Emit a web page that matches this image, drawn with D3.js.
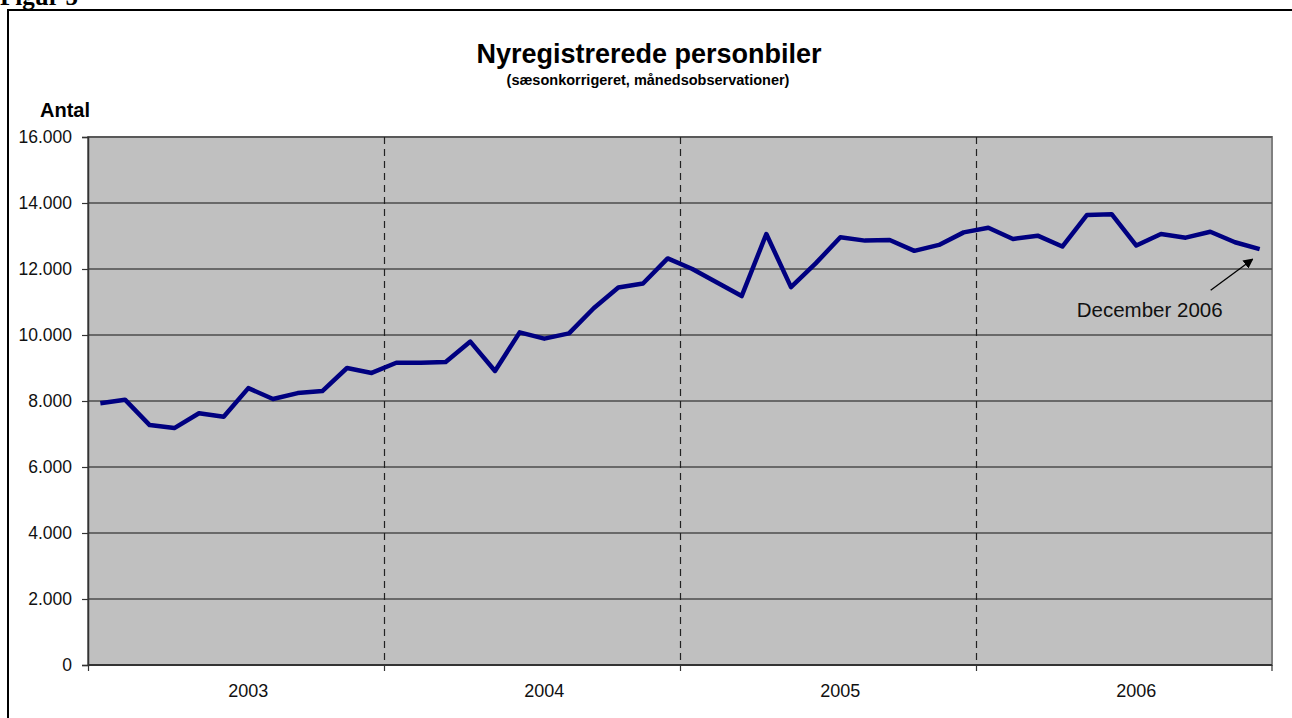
<!DOCTYPE html>
<html>
<head>
<meta charset="utf-8">
<script src="https://cdn.jsdelivr.net/npm/d3@7"></script>
<style>
    body { margin: 0; background: #fff; }
    svg { display: block; font-family: Arial, "Liberation Sans", sans-serif; }
</style>
</head>
<body>
<div id="chart"></div>
<script>
// data
var years = ["2003", "2004", "2005", "2006"];
var months = ["jan", "feb", "mar", "apr", "maj", "jun", "jul", "aug", "sep", "okt", "nov", "dec"];

var values2003 = [7930, 8040, 7270, 7180, 7630, 7520, 8390, 8060, 8240, 8300, 9000, 8850];
var values2004 = [9160, 9160, 9180, 9800, 8910, 10080, 9890, 10050, 10810, 11440, 11560, 12320];
var values2005 = [12000, 11590, 11180, 13060, 11450, 12170, 12960, 12860, 12880, 12550, 12730, 13110];
var values2006 = [13250, 12910, 13010, 12680, 13640, 13660, 12710, 13060, 12950, 13130, 12810, 12600];

var yTicks = [0, 2000, 4000, 6000, 8000, 10000, 12000, 14000, 16000];

var series = [];
[values2003, values2004, values2005, values2006].forEach(function(arr, yi) {
    arr.forEach(function(v, mi) {
        series.push({ key: years[yi] + "-" + months[mi], year: years[yi], month: mi, value: v });
    });
});

var width = 1292, height = 718;
var margin = {top: 137, right: 20, bottom: 53, left: 88};
var w = 1272 - margin.left, h = 665 - margin.top;

var svg = d3.select("#chart").append("svg")
    .attr("width", width)
    .attr("height", height);

// "Figur 5" label, cut off at the top like in the source
svg.append("text")
    .attr("x", 0)
    .attr("y", 5)
    .style("font-family", "'Liberation Serif', 'Times New Roman', serif")
    .style("font-weight", "bold")
    .style("font-size", "25px")
    .text("Figur 5");

// outer frame
svg.append("rect")
    .attr("x", 8)
    .attr("y", 10)
    .attr("width", 1300)
    .attr("height", 720)
    .attr("fill", "none")
    .attr("stroke", "#000")
    .attr("stroke-width", 2);

svg.append("text")
    .attr("x", 649)
    .attr("y", 63)
    .attr("text-anchor", "middle")
    .style("font-weight", "bold")
    .style("font-size", "27px")
    .text("Nyregistrerede personbiler");

svg.append("text")
    .attr("x", 648)
    .attr("y", 85)
    .attr("text-anchor", "middle")
    .style("font-weight", "bold")
    .style("font-size", "14.5px")
    .text("(sæsonkorrigeret, månedsobservationer)");

svg.append("text")
    .attr("x", 40)
    .attr("y", 117)
    .style("font-weight", "bold")
    .style("font-size", "20px")
    .text("Antal");

var g = svg.append("g")
    .attr("transform", "translate(" + margin.left + "," + margin.top + ")");

// scales
var x = d3.scaleBand()
    .domain(series.map(function(d) { return d.key; }))
    .range([0, w]);

var y = d3.scaleLinear()
    .domain([0, 16000])
    .range([h, 0]);

var xYear = d3.scaleBand()
    .domain(years)
    .range([0, w]);

// plot background
g.append("rect")
    .attr("width", w)
    .attr("height", h)
    .attr("fill", "#c0c0c0")
    .attr("stroke", "#808080")
    .attr("stroke-width", 2);

// horizontal gridlines
g.selectAll(".grid")
    .data(yTicks)
    .enter()
    .append("line")
    .attr("class", "grid")
    .attr("x1", 0)
    .attr("x2", w)
    .attr("y1", function(d) { return y(d); })
    .attr("y2", function(d) { return y(d); })
    .attr("stroke", "#4d4d4d")
    .attr("stroke-width", 1.5);

// dashed year separators
g.selectAll(".yearline")
    .data(years.slice(1))
    .enter()
    .append("line")
    .attr("class", "yearline")
    .attr("x1", function(d) { return Math.round(xYear(d)) + 0.5; })
    .attr("x2", function(d) { return Math.round(xYear(d)) + 0.5; })
    .attr("y1", 0)
    .attr("y2", h)
    .attr("stroke", "#222")
    .attr("stroke-width", 1.2)
    .attr("stroke-dasharray", "7,5");

// y axis
var yAxis = d3.axisLeft(y)
    .tickValues(yTicks)
    .tickSize(6)
    .tickPadding(10)
    .tickFormat(function(d) { return d3.format(",")(d).replace(/,/g, "."); });

g.append("g")
    .attr("class", "y-axis axis")
    .call(yAxis)
    .call(function(s) {
        s.select(".domain").attr("stroke", "#333").attr("stroke-width", 1.5);
        s.selectAll(".tick line").attr("stroke", "#333").attr("stroke-width", 1.2);
        s.selectAll("text").style("font-size", "17.5px").attr("fill", "#111").style("font-family", "Arial, 'Liberation Sans', sans-serif");
    });

// x axis: year boundaries as ticks
var xAxisG = g.append("g")
    .attr("class", "x-axis axis")
    .attr("transform", "translate(0," + h + ")");

xAxisG.append("line")
    .attr("x1", 0)
    .attr("x2", w)
    .attr("stroke", "#333")
    .attr("stroke-width", 2);

xAxisG.selectAll(".xtick")
    .data(years.concat(["end"]))
    .enter()
    .append("line")
    .attr("class", "xtick")
    .attr("x1", function(d, i) { return i < years.length ? Math.round(xYear(d)) + 0.5 : w; })
    .attr("x2", function(d, i) { return i < years.length ? Math.round(xYear(d)) + 0.5 : w; })
    .attr("y1", 0)
    .attr("y2", 6)
    .attr("stroke", "#333")
    .attr("stroke-width", 1.2);

// year labels sit over the July category
xAxisG.selectAll(".xlabel")
    .data(years)
    .enter()
    .append("text")
    .attr("class", "xlabel")
    .attr("x", function(d) { return x(d + "-" + months[6]) + x.bandwidth() / 2; })
    .attr("y", 32)
    .attr("text-anchor", "middle")
    .style("font-size", "18px")
    .attr("fill", "#111")
    .text(function(d) { return d; });

// the line
var line = d3.line()
    .x(function(d) { return x(d.key) + x.bandwidth() / 2; })
    .y(function(d) { return y(d.value); });

g.append("path")
    .datum(series)
    .attr("d", line)
    .attr("fill", "none")
    .attr("stroke", "#000080")
    .attr("stroke-width", 4.5)
    .attr("stroke-linejoin", "round");

// annotation for the last observation
var last = series[series.length - 1];
var lx = x(last.key) + x.bandwidth() / 2, ly = y(last.value);

svg.append("defs").append("marker")
    .attr("id", "arrow")
    .attr("viewBox", "0 0 10 10")
    .attr("refX", 9)
    .attr("refY", 5)
    .attr("markerWidth", 10)
    .attr("markerHeight", 10)
    .attr("markerUnits", "userSpaceOnUse")
    .attr("orient", "auto")
    .append("path")
    .attr("d", "M0,0 L10,5 L0,10 z")
    .attr("fill", "#000");

g.append("line")
    .attr("x1", lx - 49)
    .attr("y1", ly + 41)
    .attr("x2", lx - 7)
    .attr("y2", ly + 10)
    .attr("stroke", "#000")
    .attr("stroke-width", 1.3)
    .attr("marker-end", "url(#arrow)");

g.append("text")
    .attr("x", lx - 110)
    .attr("y", ly + 68)
    .attr("text-anchor", "middle")
    .style("font-size", "20.5px")
    .attr("fill", "#111")
    .text("December 2006");
</script>
</body>
</html>
